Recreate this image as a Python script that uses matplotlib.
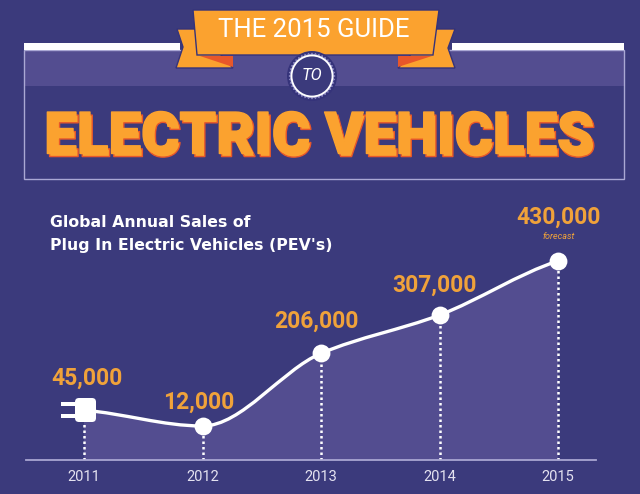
import numpy as np
import matplotlib
matplotlib.use("Agg")
import matplotlib.pyplot as plt
from matplotlib.path import Path
from matplotlib.patches import PathPatch, Polygon, Rectangle, Circle, FancyBboxPatch
import matplotlib.patheffects as pe

years = [2011, 2012, 2013, 2014, 2015]
sales = [45000, 12000, 206000, 307000, 430000]
# the dots in the original do not sit exactly on scale, these are read off the picture
levels = [52000, 12000, 196000, 293000, 430000]
sales_labels = ["45,000", "12,000", "206,000", "307,000", "430,000"]
heading = "Global Annual Sales of\nPlug In Electric Vehicles (PEV's)"

BG = "#3b3a7c"
BAND = "#534d90"
ORANGE = "#fba22f"
RED = "#e8572a"
LABEL = "#f0a23a"
DARK = "#35337a"
W, H = 640, 494

plt.rcParams["font.family"] = ["Roboto", "DejaVu Sans"]

fig = plt.figure(figsize=(W / 100, H / 100), dpi=100, facecolor=BG)


def smooth_path(x, y, base):
    # monotone cubic through the points, so the dip at 2012 stays flat
    x = np.array(x, float)
    y = np.array(y, float)
    d = np.diff(y) / np.diff(x)
    m = np.zeros(len(x))
    m[0] = d[0] * 0.6
    m[-1] = d[-1] * 0.7
    for i in range(1, len(x) - 1):
        if d[i - 1] * d[i] > 0:
            m[i] = 2 * d[i - 1] * d[i] / (d[i - 1] + d[i])
    verts = [(x[0], y[0])]
    codes = [Path.MOVETO]
    for i in range(len(x) - 1):
        h = (x[i + 1] - x[i]) / 3
        verts += [(x[i] + h, y[i] + m[i] * h), (x[i + 1] - h, y[i + 1] - m[i + 1] * h), (x[i + 1], y[i + 1])]
        codes += [Path.CURVE4] * 3
    line = Path(verts, codes)
    area = Path(verts + [(x[-1], base), (x[0], base), (x[0], base)],
                codes + [Path.LINETO, Path.LINETO, Path.CLOSEPOLY])
    return line, area


# chart axes, placed so baseline sits at y=460 and spans x=26..596
left, right, top, bottom = 26, 596, 200, 460
ax = fig.add_axes([left / W, 1 - bottom / H, (right - left) / W, (bottom - top) / H])
ax.patch.set_alpha(0)
per_year = 118.5
per_unit = 165 / 418000
ax.set_xlim(2011 - (84 - left) / per_year, 2011 + (right - 84) / per_year)
y_low = 12000 - (bottom - 426) / per_unit
y_high = 12000 + (426 - top) / per_unit
ax.set_ylim(y_low, y_high)

line, area = smooth_path(years, levels, y_low)
ax.add_patch(PathPatch(area, facecolor=BAND, edgecolor="none", zorder=1))
ax.add_patch(PathPatch(line, facecolor="none", edgecolor="white", lw=2.4, zorder=3))
ax.vlines(years, y_low, levels, colors="white", lw=1.8, linestyles=(0, (1, 1.2)), zorder=2)
ax.scatter(years[1:], levels[1:], s=165, color="white", linewidths=0, zorder=4)

offsets = [(3, 32), (-4, 24), (-5, 32), (-5, 30), (0, 44)]
for yr, lv, lab, off in zip(years, levels, sales_labels, offsets):
    ax.annotate(lab, (yr, lv), xytext=off, textcoords="offset pixels", color=LABEL,
                fontsize=16.5, fontweight="bold", ha="center", va="center")
ax.annotate("forecast", (years[-1], levels[-1]), xytext=(1, 25), textcoords="offset pixels",
            color=LABEL, fontsize=6.5, style="italic", ha="center", va="center")

ax.set_xticks(years)
ax.set_xticklabels(years, color="#e4e2f0", fontsize=10.5)
ax.tick_params(axis="x", length=0, pad=7)
ax.set_yticks([])
for s in ["top", "left", "right"]:
    ax.spines[s].set_visible(False)
ax.spines["bottom"].set_color("#a9a6d2")
ax.spines["bottom"].set_linewidth(1.3)

# everything else is drawn in pixel coordinates of the original
px = fig.add_axes([0, 0, 1, 1], zorder=5)
px.patch.set_alpha(0)
px.set_xlim(0, W)
px.set_ylim(H, 0)
px.axis("off")

px.add_patch(Rectangle((24, 50), 600, 36, facecolor=BAND, edgecolor="none"))
px.add_patch(Rectangle((24, 50), 600, 129, facecolor="none", edgecolor="#aaa8d4", lw=1))
px.add_patch(Rectangle((24, 43), 156, 7, facecolor="white", edgecolor="none"))
px.add_patch(Rectangle((452, 43), 172, 7, facecolor="white", edgecolor="none"))

# ribbon
px.add_patch(Polygon([(177, 29), (197, 29), (233, 68), (176, 68), (183, 47)], facecolor=ORANGE,
                     edgecolor=DARK, lw=1))
px.add_patch(Polygon([(455, 29), (435, 29), (398, 68), (455, 68), (448, 48)], facecolor=ORANGE,
                     edgecolor=DARK, lw=1))
px.add_patch(Polygon([(200, 56), (233, 56), (233, 67)], facecolor=RED, edgecolor="none"))
px.add_patch(Polygon([(432, 56), (398, 56), (398, 67)], facecolor=RED, edgecolor="none"))
px.add_patch(Polygon([(193, 10), (439, 10), (433, 55), (197, 55)], facecolor=ORANGE, edgecolor=DARK, lw=1))
px.text(314, 30, "THE 2015 GUIDE", color="white", fontsize=18.5, ha="center", va="center")

# badge
px.add_patch(Circle((312, 76), 25, facecolor=DARK, edgecolor="none"))
ang = np.linspace(0, 2 * np.pi, 80, endpoint=False)
rad = np.where(np.arange(80) % 2, 21.5, 23.5)
px.add_patch(Polygon(np.column_stack([312 + rad * np.cos(ang), 76 + rad * np.sin(ang)]),
                     facecolor="#8f8cc4", edgecolor="none"))
px.add_patch(Circle((312, 76), 20.5, facecolor=BG, edgecolor="white", lw=1.3))
px.text(312, 76, "TO", color="white", fontsize=12, style="italic", ha="center", va="center")

# big title with the hard shadow
px.text(319, 138, "ELECTRIC VEHICLES", color=ORANGE, fontsize=42, fontweight="black",
        ha="center", va="center",
        path_effects=[pe.Stroke(linewidth=1.0, foreground=RED, offset=(1.6, -2.2)),
                      pe.Stroke(linewidth=1.0, foreground=ORANGE), pe.Normal()])

px.text(50, 234, heading, color="white", fontsize=11.3, fontweight="bold", ha="left", va="center",
        linespacing=1.7, family=["DejaVu Sans"])

# plug on the 2011 point
px.add_patch(Rectangle((61, 401.5), 15, 4, facecolor="white", edgecolor="none"))
px.add_patch(Rectangle((61, 414), 15, 4, facecolor="white", edgecolor="none"))
px.add_patch(FancyBboxPatch((75, 398), 21, 24, boxstyle="round,pad=0,rounding_size=4", facecolor="white",
                            edgecolor="none"))

fig.savefig("out.png", dpi=100, facecolor=BG)
